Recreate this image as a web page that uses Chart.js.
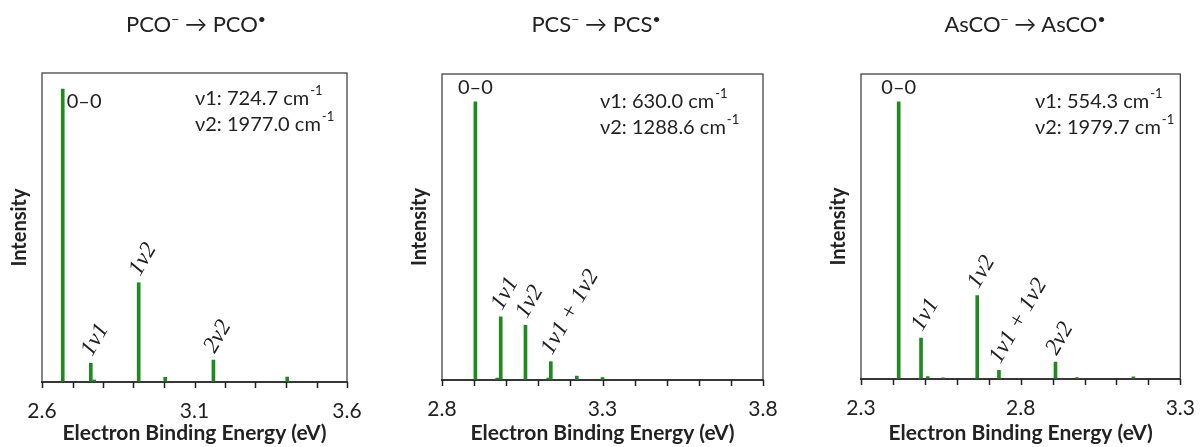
<!DOCTYPE html>
<html>
<head>
<meta charset="utf-8">
<script src="https://cdn.jsdelivr.net/npm/chart.js@4"></script>
<style>
  body { margin: 0; background: #fff; }
  #wrap { position: relative; width: 1204px; height: 447px; overflow: hidden; }
  .panel { position: absolute; top: 0; }
  .ttl { position: absolute; top: 10px; transform: translateX(-50%); font: 22px Lato, sans-serif; color: #222; white-space: nowrap; }
  .ttl sup { font-size: 14px; }
</style>
</head>
<body>
<div id="wrap">
  <canvas id="pcoChart" class="panel" width="400" height="447" style="left:0"></canvas>
  <canvas id="pcsChart" class="panel" width="400" height="447" style="left:400px"></canvas>
  <canvas id="ascoChart" class="panel" width="404" height="447" style="left:800px"></canvas>
  <div class="ttl" style="left:196px">PCO<sup>−</sup> → PCO<sup>•</sup></div>
  <div class="ttl" style="left:596px">PCS<sup>−</sup> → PCS<sup>•</sup></div>
  <div class="ttl" style="left:1025px">AsCO<sup>−</sup> → AsCO<sup>•</sup></div>
</div>
<script>
// Franck-Condon stick spectra

// PCO- -> PCO
const pcoEnergy = [2.668, 2.760, 2.771, 2.917, 3.004, 3.162, 3.404];
const pcoIntensity = [1, 0.064, 0.007, 0.339, 0.016, 0.075, 0.017];
const pcoPeakLabels = ['0–0', '1ν1', '', '1ν2', '', '2ν2', ''];
const pcoTicks = ['2.6', '3.1', '3.6'];
const pcoNotes = [['ν1: 724.7 cm', '-1'], ['ν2: 1977.0 cm', '-1']];

// PCS- -> PCS
const pcsEnergy = [2.904, 2.972, 2.983, 3.060, 3.131, 3.139, 3.220, 3.300];
const pcsIntensity = [1, 0.007, 0.227, 0.197, 0.007, 0.066, 0.014, 0.009];
const pcsPeakLabels = ['0–0', '', '1ν1', '1ν2', '', '1ν1 + 1ν2', '', ''];
const pcsTicks = ['2.8', '3.3', '3.8'];
const pcsNotes = [['ν1: 630.0 cm', '-1'], ['ν2: 1288.6 cm', '-1']];

// AsCO- -> AsCO
const ascoEnergy = [2.418, 2.488, 2.509, 2.557, 2.664, 2.732, 2.909, 2.976, 3.153];
const ascoIntensity = [1, 0.148, 0.009, 0.004, 0.301, 0.031, 0.061, 0.005, 0.008];
const ascoPeakLabels = ['0–0', '1ν1', '', '', '1ν2', '1ν1 + 1ν2', '2ν2', '', ''];
const ascoTicks = ['2.3', '2.8', '3.3'];
const ascoNotes = [['ν1: 554.3 cm', '-1'], ['ν2: 1979.7 cm', '-1']];

const stickColor = '#1f8a1f';
const textColor = '#222';

// draws the frame, tick marks, peak labels and the frequency notes
const peakLabelPlugin = {
  id: 'peakLabels',
  afterDatasetsDraw(chart, args, opts) {
    const ctx = chart.ctx;
    const a = chart.chartArea;
    const xs = chart.scales.x, ys = chart.scales.y;
    const pts = chart.data.datasets[0].data;

    ctx.save();
    ctx.strokeStyle = '#444';
    ctx.lineWidth = 1.3;
    ctx.strokeRect(a.left, a.top, a.right - a.left, a.bottom - a.top);

    // outward tick marks at every x tick of the scale
    ctx.strokeStyle = '#222';
    ctx.lineWidth = 1.5;
    ctx.beginPath();
    xs.ticks.forEach(t => {
      const tx = Math.round(xs.getPixelForValue(t.value)) + 0.5;
      ctx.moveTo(tx, a.bottom);
      ctx.lineTo(tx, a.bottom + 6);
    });
    ctx.stroke();

    ctx.fillStyle = textColor;
    opts.labels.forEach((txt, i) => {
      if (!txt) return;
      const px = xs.getPixelForValue(pts[i].x);
      const py = ys.getPixelForValue(pts[i].y);
      ctx.save();
      if (i === 0) {
        ctx.font = '20px Lato, sans-serif';
        ctx.textBaseline = 'middle';
        if (opts.zeroSide) {
          ctx.textAlign = 'left';
          ctx.fillText(txt, px + 4, py + 12);
        } else {
          ctx.textAlign = 'center';
          ctx.fillText(txt, px, py - 14);
        }
      } else {
        ctx.translate(px - 4, py - 9);
        ctx.rotate(-Math.PI / 3);
        ctx.font = 'italic 23px "Liberation Serif", serif';
        ctx.textAlign = 'left';
        ctx.textBaseline = 'middle';
        ctx.fillText(txt, 0, 0);
      }
      ctx.restore();
    });

    // frequency notes with superscript
    opts.notes.forEach((n, k) => {
      const x = a.left + opts.noteX;
      const y = a.top + opts.noteY + k * 25.5;
      ctx.font = '20px Lato, sans-serif';
      ctx.textAlign = 'left';
      ctx.textBaseline = 'middle';
      ctx.fillText(n[0], x, y);
      const w = ctx.measureText(n[0]).width;
      ctx.font = '13px Lato, sans-serif';
      ctx.fillText(n[1], x + w + 1, y - 8);
    });
    ctx.restore();
  }
};

function makeChart(id, energy, intensity, peakLabels, tickLabels, notes, cfg) {
  const el = document.getElementById(id);
  const pts = energy.map((e, i) => ({ x: e, y: intensity[i] }));
  const xMin = parseFloat(tickLabels[0]);
  const xMax = parseFloat(tickLabels[tickLabels.length - 1]);

  return new Chart(el, {
    type: 'bar',
    data: {
      datasets: [{
        data: pts,
        backgroundColor: stickColor,
        borderWidth: 0,
        barThickness: 3
      }]
    },
    options: {
      responsive: false,
      animation: false,
      layout: {
        padding: { top: cfg.top, right: cfg.right, left: cfg.left, bottom: 0 }
      },
      plugins: {
        legend: { display: false },
        tooltip: { enabled: false },
        peakLabels: {
          labels: peakLabels,
          notes: notes,
          zeroSide: cfg.zeroSide,
          noteX: cfg.noteX,
          noteY: cfg.noteY
        }
      },
      scales: {
        x: {
          type: 'linear',
          min: xMin,
          max: xMax,
          offset: false,
          afterFit: s => { s.height = cfg.xHeight; },
          border: { display: true, color: '#222', width: 2 },
          grid: { display: false, offset: false },
          ticks: {
            stepSize: 0.1,
            autoSkip: false,
            maxRotation: 0,
            padding: 9,
            color: textColor,
            font: { family: 'Lato', size: 21 },
            callback: v => {
              const s = v.toFixed(1);
              return tickLabels.includes(s) ? s : '';
            }
          },
          title: {
            display: true,
            text: 'Electron Binding Energy (eV)',
            color: textColor,
            font: { family: 'Lato', size: 21, weight: 'bold' },
            padding: { top: 0, bottom: 1 }
          }
        },
        y: {
          min: 0,
          max: cfg.yMax,
          afterFit: s => { s.width = 42; },
          border: { display: false },
          grid: { display: false },
          ticks: { display: false },
          title: {
            display: true,
            text: 'Intensity',
            color: textColor,
            font: { family: 'Lato', size: 20, weight: 'bold' },
            padding: { top: 8, bottom: 0 }
          }
        }
      }
    },
    plugins: [peakLabelPlugin]
  });
}

document.addEventListener('DOMContentLoaded', function() {
  makeChart('pcoChart', pcoEnergy, pcoIntensity, pcoPeakLabels, pcoTicks, pcoNotes,
    { top: 73, right: 53, left: 0, xHeight: 65, yMax: 1.055, zeroSide: true, noteX: 153, noteY: 26 });
  makeChart('pcsChart', pcsEnergy, pcsIntensity, pcsPeakLabels, pcsTicks, pcsNotes,
    { top: 74, right: 37, left: 0, xHeight: 67, yMax: 1.1, zeroSide: false, noteX: 158, noteY: 28 });
  makeChart('ascoChart', ascoEnergy, ascoIntensity, ascoPeakLabels, ascoTicks, ascoNotes,
    { top: 74, right: 16, left: 19, xHeight: 68, yMax: 1.1, zeroSide: false, noteX: 174, noteY: 28 });
});
</script>
</body>
</html>
